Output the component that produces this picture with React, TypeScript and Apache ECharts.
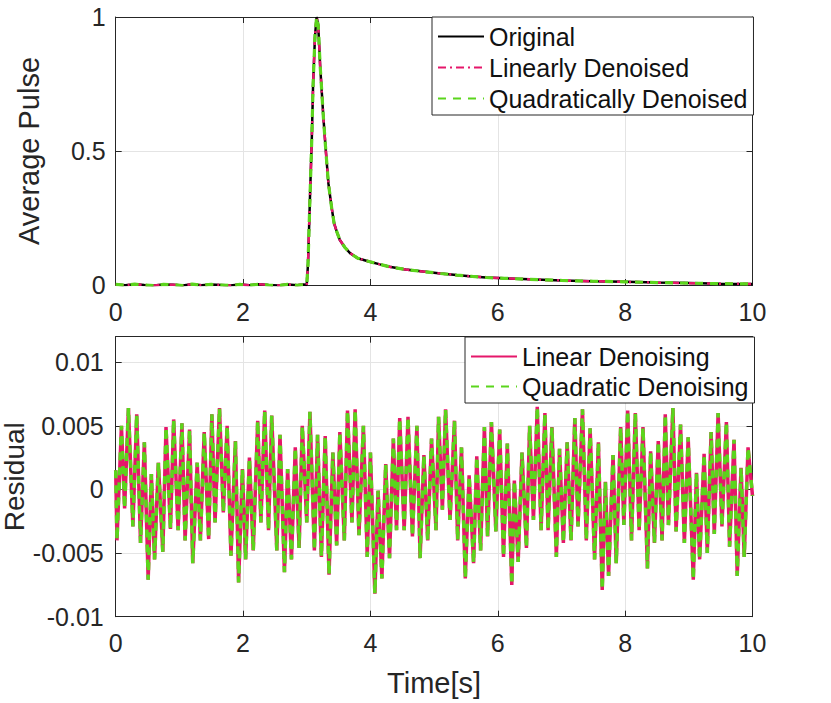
import React, { useEffect, useRef } from "react";
import * as echarts from "echarts";

// ---- Top panel: average pulse (time in s, normalized amplitude) ----
const PULSE_T = [
  0, 0.15, 0.3, 0.45, 0.6, 0.75, 0.9, 1.05, 1.2, 1.35, 1.5, 1.65, 1.8, 1.95, 2.1, 2.25, 2.4, 2.55, 2.7, 2.85, 2.95,
  3.0, 3.02, 3.05, 3.08, 3.1, 3.13, 3.155, 3.18, 3.21, 3.26, 3.3, 3.34, 3.39, 3.43, 3.47, 3.52, 3.6, 3.68, 3.8,
  3.99, 4.15, 4.3, 4.55, 4.83, 5.1, 5.35, 5.6, 5.82, 6.1, 6.5, 7.0, 7.5, 8.0, 8.5, 9.0, 9.5, 10,
];
const PULSE_ORIGINAL = [
  0.002, -0.001, 0.003, 0.0, -0.002, 0.002, 0.001, -0.002, 0.003, -0.001, 0.002, 0.0, -0.002, 0.002, -0.001, 0.003, 0.0, -0.002, 0.002, -0.001, 0.002,
  0.0, 0.08, 0.32, 0.55, 0.75, 0.93, 1.0, 0.97, 0.82, 0.63, 0.5, 0.38, 0.29, 0.23, 0.2, 0.168, 0.14, 0.119, 0.1,
  0.087, 0.077, 0.068, 0.058, 0.05, 0.043, 0.037, 0.032, 0.028, 0.025, 0.021, 0.017, 0.014, 0.012, 0.009, 0.007, 0.005, 0.004,
];
const PULSE_LINEAR = PULSE_ORIGINAL;
const PULSE_QUADRATIC = PULSE_ORIGINAL;

// ---- Bottom panel: residuals ----
const RES_T = [
  0.0, 0.02, 0.09, 0.14, 0.2, 0.27, 0.33, 0.39, 0.45, 0.51, 0.56, 0.61, 0.67, 0.74, 0.79, 0.86, 0.91, 0.98,
  1.04, 1.09, 1.16, 1.21, 1.28, 1.33, 1.39, 1.46, 1.51, 1.56, 1.63, 1.69, 1.75, 1.81, 1.88, 1.93, 1.99,
  2.04, 2.1, 2.16, 2.23, 2.28, 2.34, 2.4, 2.45, 2.53, 2.58, 2.65, 2.7, 2.76, 2.82, 2.88, 2.93,
  3.0, 3.05, 3.12, 3.17, 3.23, 3.29, 3.35, 3.41, 3.47, 3.52, 3.59, 3.64, 3.71, 3.76, 3.82, 3.89, 3.95,
  4.0, 4.07, 4.12, 4.18, 4.24, 4.3, 4.36, 4.41, 4.46, 4.53, 4.59, 4.66, 4.73, 4.78, 4.84, 4.9, 4.96,
  5.03, 5.07, 5.13, 5.18, 5.25, 5.32, 5.37, 5.43, 5.49, 5.55, 5.62, 5.67, 5.73, 5.79, 5.84, 5.9, 5.97,
  6.03, 6.09, 6.15, 6.22, 6.26, 6.32, 6.38, 6.45, 6.5, 6.56, 6.62, 6.68, 6.74, 6.79, 6.85, 6.92, 6.97,
  7.03, 7.09, 7.15, 7.21, 7.26, 7.33, 7.39, 7.45, 7.52, 7.58, 7.64, 7.69, 7.74, 7.81, 7.86, 7.93, 7.98,
  8.04, 8.1, 8.16, 8.22, 8.28, 8.35, 8.4, 8.46, 8.52, 8.58, 8.63, 8.68, 8.75, 8.8, 8.87, 8.93, 8.99,
  9.07, 9.12, 9.17, 9.24, 9.29, 9.35, 9.4, 9.46, 9.52, 9.59, 9.64, 9.71, 9.76, 9.82, 9.87, 9.93, 10.0,
];
const RES_LINEAR = [
  0.0015, -0.004, 0.005, -0.0015, 0.0064, -0.0029, 0.0059, -0.0042, 0.0037, -0.0071, 0.0012, -0.0055, 0.0021, -0.0049, 0.0049, -0.0031, 0.0055, -0.0032,
  0.0052, -0.004, 0.0047, -0.0058, 0.0021, -0.004, 0.0045, -0.0039, 0.0059, -0.0026, 0.0064, -0.0018, 0.005, -0.0052, 0.0038, -0.0073, 0.0016,
  -0.0055, 0.0025, -0.0048, 0.0054, -0.0026, 0.0062, -0.0032, 0.0058, -0.0048, 0.0043, -0.0065, 0.0016, -0.0055, 0.0033, -0.0046, 0.005,
  -0.0026, 0.0061, -0.0048, 0.0043, -0.0053, 0.0042, -0.0067, 0.0029, -0.0044, 0.0045, -0.004, 0.0062, -0.0026, 0.0063, -0.0036, 0.005, -0.0053,
  0.0029, -0.0082, -0.0001, -0.007, 0.002, -0.0054, 0.004, -0.0032, 0.0056, -0.0032, 0.0057, -0.0037, 0.005, -0.0054, 0.0027, -0.004, 0.004,
  -0.0032, 0.0057, -0.0016, 0.0063, -0.0024, 0.0054, -0.004, 0.0033, -0.007, 0.0011, -0.0058, 0.0026, -0.0048, 0.0049, -0.0037, 0.0053, -0.0033,
  0.0047, -0.0053, 0.0036, -0.0075, 0.0007, -0.0057, 0.0029, -0.0046, 0.005, -0.0024, 0.0065, -0.0032, 0.006, -0.0032, 0.0049, -0.0053, 0.0032,
  -0.0042, 0.0037, -0.004, 0.0056, -0.0029, 0.0063, -0.004, 0.0048, -0.0055, 0.0037, -0.0079, 0.0006, -0.0068, 0.0027, -0.0058, 0.0049, -0.0028,
  0.0062, -0.004, 0.006, -0.0032, 0.0049, -0.0062, 0.003, -0.0042, 0.0038, -0.004, 0.0059, -0.0028, 0.0064, -0.0033, 0.0051, -0.0042, 0.0041,
  -0.0071, 0.0013, -0.0055, 0.0028, -0.005, 0.0045, -0.0035, 0.006, -0.0029, 0.0053, -0.0045, 0.0039, -0.0068, 0.0017, -0.0053, 0.0033, -0.0005,
];
const RES_QUADRATIC = RES_LINEAR;

const X_TICKS = [0, 2, 4, 6, 8, 10];

const FONT = "Liberation Sans, Arial, Helvetica, sans-serif";
const INK = "#262626";
const GRIDC = "#e4e4e4";
const BLACK = "#000000";
const MAGENTA = "#e5176a";
const GREEN = "#5bd51c";

const zip = (xs: number[], ys: number[]) => xs.map((x, i) => [x, ys[i]]);

export default function App() {
  const ref = useRef<HTMLDivElement>(null);
  useEffect(() => {
    if (!ref.current) return;
    const chart = echarts.init(ref.current, null, { renderer: "svg" });
    const axLine = { show: true, onZero: false, lineStyle: { color: INK, width: 1 } };
    const tick = { show: true, inside: true, length: 6, lineStyle: { color: INK, width: 1 } };
    const label = { fontSize: 25, color: INK, fontFamily: FONT };
    const split = { show: true, lineStyle: { color: GRIDC, width: 1 } };
    const fmt = (v: number) => String(Math.round(v * 1000) / 1000);

    const xBase = (gi: number) => ({
      type: "value",
      gridIndex: gi,
      min: X_TICKS[0],
      max: X_TICKS[X_TICKS.length - 1],
      interval: X_TICKS[1] - X_TICKS[0],
      position: "bottom",
      axisLine: axLine,
      axisTick: tick,
      axisLabel: { ...label, margin: 14, formatter: fmt },
      splitLine: split,
    });
    const mirrorX = (gi: number) => ({
      type: "value",
      gridIndex: gi,
      min: X_TICKS[0],
      max: X_TICKS[X_TICKS.length - 1],
      interval: X_TICKS[1] - X_TICKS[0],
      position: "top",
      axisLine: axLine,
      axisTick: tick,
      axisLabel: { show: false },
      splitLine: { show: false },
    });

    const legendBase = {
      orient: "vertical",
      itemWidth: 46,
      itemHeight: 12,
      padding: [7, 6, 4, 5],
      backgroundColor: "#ffffff",
      borderColor: INK,
      borderWidth: 1,
      borderRadius: 0,
      itemStyle: { opacity: 0, borderWidth: 0 },
      textStyle: { fontSize: 25, color: "#111111", fontFamily: FONT },
    };

    const option: any = {
      animation: false,
      backgroundColor: "#ffffff",
      textStyle: { fontFamily: FONT },
      grid: [
        { left: 115.7, right: 78.5, top: 17, height: 268, containLabel: false, outerBoundsMode: "none" },
        { left: 115.7, right: 78.5, top: 336.7, height: 280, containLabel: false, outerBoundsMode: "none" },
      ],
      xAxis: [
        xBase(0),
        {
          ...xBase(1),
          name: "Time[s]",
          nameLocation: "middle",
          nameGap: 52,
          nameMoveOverlap: false,
          nameTextStyle: { fontSize: 29, color: INK, fontFamily: FONT },
        },
        mirrorX(0),
        mirrorX(1),
      ],
      yAxis: [
        {
          type: "value",
          gridIndex: 0,
          min: 0,
          max: 1,
          interval: 0.5,
          position: "left",
          axisLine: axLine,
          axisTick: tick,
          axisLabel: { ...label, margin: 10, formatter: fmt },
          splitLine: split,
          name: "Average Pulse",
          nameLocation: "middle",
          nameGap: 72,
          nameMoveOverlap: false,
          nameTextStyle: { fontSize: 29, color: INK, fontFamily: FONT },
        },
        {
          type: "value",
          gridIndex: 1,
          min: -0.01,
          max: 0.012,
          interval: 0.005,
          position: "left",
          axisLine: axLine,
          axisTick: tick,
          axisLabel: { ...label, margin: 12, formatter: fmt, showMaxLabel: false },
          splitLine: split,
          name: "Residual",
          nameLocation: "middle",
          nameGap: 87,
          nameMoveOverlap: false,
          nameTextStyle: { fontSize: 28, lineHeight: 28, color: INK, fontFamily: FONT },
        },
        {
          type: "value",
          gridIndex: 0,
          min: 0,
          max: 1,
          interval: 0.5,
          position: "right",
          axisLine: axLine,
          axisTick: tick,
          axisLabel: { show: false },
          splitLine: { show: false },
        },
        {
          type: "value",
          gridIndex: 1,
          min: -0.01,
          max: 0.012,
          interval: 0.005,
          position: "right",
          axisLine: axLine,
          axisTick: tick,
          axisLabel: { show: false },
          splitLine: { show: false },
        },
      ],
      legend: [
        {
          ...legendBase,
          left: 432,
          top: 17,
          itemGap: 6,
          data: ["Original", "Linearly Denoised", "Quadratically Denoised"],
        },
        {
          ...legendBase,
          left: 465,
          top: 337,
          itemGap: 5,
          data: ["Linear Denoising", "Quadratic Denoising"],
        },
      ],
      series: [
        {
          name: "Original",
          type: "line",
          xAxisIndex: 0,
          yAxisIndex: 0,
          data: zip(PULSE_T, PULSE_ORIGINAL),
          symbol: "none",
          lineStyle: { color: BLACK, width: 2.5, type: "solid" },
          itemStyle: { color: BLACK },
        },
        {
          name: "Linearly Denoised",
          type: "line",
          xAxisIndex: 0,
          yAxisIndex: 0,
          data: zip(PULSE_T, PULSE_LINEAR),
          symbol: "none",
          lineStyle: { color: MAGENTA, width: 2.5, type: [8, 4, 2, 4] },
          itemStyle: { color: MAGENTA },
        },
        {
          name: "Quadratically Denoised",
          type: "line",
          xAxisIndex: 0,
          yAxisIndex: 0,
          data: zip(PULSE_T, PULSE_QUADRATIC),
          symbol: "none",
          lineStyle: { color: GREEN, width: 3.2, type: [8, 7] },
          itemStyle: { color: GREEN },
        },
        {
          name: "Linear Denoising",
          type: "line",
          xAxisIndex: 1,
          yAxisIndex: 1,
          data: zip(RES_T, RES_LINEAR),
          symbol: "none",
          lineStyle: { color: MAGENTA, width: 3.5, type: "solid" },
          itemStyle: { color: MAGENTA },
        },
        {
          name: "Quadratic Denoising",
          type: "line",
          xAxisIndex: 1,
          yAxisIndex: 1,
          data: zip(RES_T, RES_QUADRATIC),
          symbol: "none",
          lineStyle: { color: GREEN, width: 3.5, type: [8, 7] },
          itemStyle: { color: GREEN },
        },
      ],
    };
    chart.setOption(option);
    return () => chart.dispose();
  }, []);
  return (
    <div
      ref={ref}
      style={{ position: "fixed", left: 0, top: 0, width: 831, height: 703, background: "#fff" }}
    />
  );
}
